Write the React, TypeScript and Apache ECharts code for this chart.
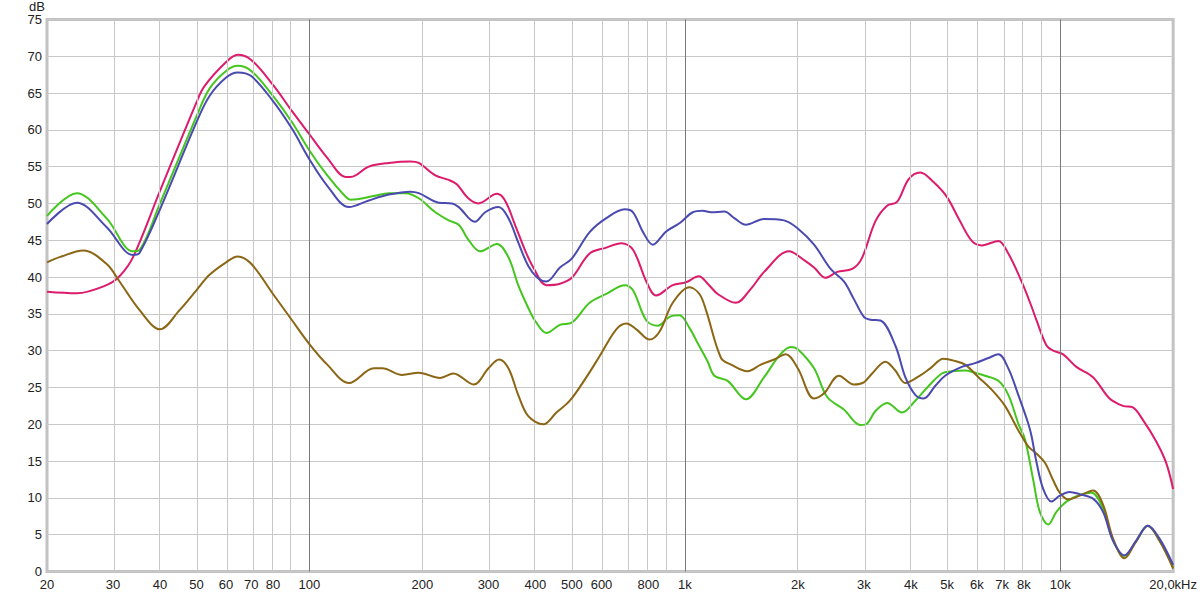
import React, { useEffect, useRef } from "react";
import * as echarts from "echarts";

// Frequency (Hz) / level (dB) readings for each curve
const magentaPoints: [number, number][] = [
  [20, 38.0], [24, 37.8], [28.8, 38.9], [31.2, 40.1], [33.9, 42.7], [40, 51.7], [50, 63.7], [52.5, 65.9],
  [60, 69.2], [64.4, 70.2], [70, 69.5], [80, 66.1], [90, 62.5], [100, 59.4], [111.6, 56.2], [124.9, 53.6],
  [128.8, 53.6], [144, 55.0], [162.8, 55.5], [185.8, 55.7], [195.6, 55.5], [216.6, 53.8], [235, 53.2],
  [247, 52.6], [265, 50.7], [282, 50.0], [316, 51.3], [332, 50.4], [353, 47.1], [375, 43.7], [395, 41.3],
  [428, 38.9], [465, 39.1], [500, 39.9], [558, 43.2], [618, 44.0], [678, 44.6], [728, 43.7], [790, 39.4],
  [839, 37.5], [929, 38.9], [1008, 39.3], [1090, 40.1], [1151, 39.1], [1224, 37.7], [1368, 36.5],
  [1500, 38.4], [1627, 40.7], [1896, 43.5], [2079, 42.3], [2210, 41.3], [2372, 39.9], [2549, 40.7],
  [2793, 41.1], [2960, 42.5], [3221, 47.6], [3459, 49.7], [3676, 50.2], [3950, 53.3], [4240, 54.2],
  [4599, 52.9], [4990, 50.9], [5360, 48.0], [5815, 44.9], [6180, 44.3], [6844, 44.9], [7276, 43.2],
  [7892, 39.4], [8389, 36.0], [8653, 34.1], [9197, 30.7], [9580, 30.0], [10184, 29.5], [11046, 27.8],
  [12232, 26.4], [13542, 23.5], [14696, 22.5], [15622, 22.3], [16608, 20.6], [18012, 17.7], [19152, 14.8],
  [20000, 11.2],
];

const bluePoints: [number, number][] = [
  [20, 47.2], [24, 50.1], [28.8, 46.8], [33.9, 43.0], [35.3, 43.3], [40, 49.2], [50, 61.0], [54.2, 64.6],
  [60, 67.1], [64.4, 67.8], [70, 67.3], [80, 63.9], [90, 60.1], [100, 56.0], [111.6, 52.4], [127.5, 49.5],
  [144, 50.4], [162.8, 51.2], [185.8, 51.6], [195.6, 51.4], [221, 50.1], [240, 50.0], [250, 49.5],
  [276, 47.5], [294, 48.8], [319, 49.5], [339, 48.0], [360, 44.7], [383, 41.5], [405, 39.9], [428, 39.4],
  [465, 41.3], [500, 42.5], [558, 46.1], [618, 48.0], [692, 49.2], [728, 48.8], [774, 46.1], [822, 44.4],
  [892, 46.2], [968, 47.3], [1050, 48.8], [1116, 49.0], [1175, 48.8], [1275, 48.9], [1355, 48.0],
  [1454, 47.1], [1627, 47.9], [1839, 47.7], [2000, 46.6], [2210, 44.4], [2446, 41.1], [2654, 39.4],
  [2822, 37.0], [3000, 34.6], [3123, 34.2], [3320, 34.1], [3638, 30.7], [3868, 26.4], [4112, 24.0],
  [4329, 23.5], [4645, 25.2], [4938, 26.6], [5470, 27.8], [5935, 28.3], [6439, 29.0], [6844, 29.5],
  [7276, 27.6], [7734, 24.0], [8222, 20.1], [8389, 18.4], [8653, 14.8], [9015, 11.2], [9482, 9.5],
  [9974, 10.3], [10602, 10.8], [11272, 10.5], [12232, 9.9], [13008, 8.1], [13828, 4.2], [14840, 2.2],
  [15940, 4.2], [17124, 6.2], [18380, 4.5], [20000, 0.9],
];

const greenPoints: [number, number][] = [
  [20, 48.3], [24, 51.4], [28.8, 48.0], [33.9, 43.5], [35.3, 43.7], [40, 50.0], [50, 61.8], [54.2, 65.6],
  [60, 68.0], [64.4, 68.7], [70, 68.0], [80, 64.6], [90, 61.0], [100, 57.2], [111.6, 53.8], [124.9, 50.9],
  [128.8, 50.5], [148.5, 51.0], [162.8, 51.4], [180.3, 51.4], [195.6, 50.7], [216.6, 48.8], [235, 47.7],
  [250, 47.1], [265, 45.1], [285, 43.5], [316, 44.5], [339, 42.7], [360, 38.9], [383, 35.8], [400, 34.0],
  [428, 32.4], [465, 33.5], [500, 33.8], [558, 36.5], [618, 37.7], [692, 38.9], [728, 38.2], [790, 34.1],
  [848, 33.4], [911, 34.6], [968, 34.8], [1029, 33.1], [1083, 31.0], [1151, 28.5], [1199, 26.6],
  [1301, 25.9], [1454, 23.4], [1627, 26.4], [1784, 29.3], [1915, 30.5], [2000, 30.2], [2210, 27.6],
  [2396, 23.7], [2654, 22.0], [2938, 19.9], [3061, 20.1], [3221, 21.8], [3459, 22.9], [3790, 21.6],
  [4112, 23.2], [4464, 25.2], [4840, 26.9], [5146, 27.2], [5582, 27.3], [5935, 27.0], [6306, 26.6],
  [6844, 25.9], [7276, 24.0], [7734, 20.1], [8054, 18.0], [8481, 12.4], [8828, 8.1], [9292, 6.4],
  [9774, 8.1], [10392, 9.5], [11272, 10.4], [12106, 10.7], [13008, 8.6], [13828, 4.2], [14840, 2.1],
  [15940, 4.1], [17124, 6.2], [18380, 4.2], [20000, 0.6],
];

const brownPoints: [number, number][] = [
  [20, 42.0], [21.6, 42.7], [25, 43.6], [28.8, 41.8], [31.2, 39.4], [35.3, 35.5], [40, 32.9], [45.1, 35.5],
  [50, 38.2], [54.2, 40.3], [60, 42.0], [64.4, 42.8], [70, 41.8], [80, 37.7], [90, 34.1], [100, 30.9],
  [111.6, 28.1], [127.5, 25.6], [148.5, 27.6], [156.3, 27.6], [176.6, 26.7], [195.6, 27.0], [223, 26.3],
  [242, 26.9], [274, 25.4], [300, 27.6], [320, 28.8], [339, 27.6], [360, 24.0], [383, 21.1], [420, 20.0],
  [455, 21.6], [494, 23.2], [547, 26.4], [594, 29.3], [657, 32.9], [699, 33.7], [743, 32.9], [806, 31.5],
  [857, 32.6], [929, 36.5], [1029, 38.6], [1094, 37.7], [1139, 35.5], [1249, 29.0], [1328, 28.1],
  [1469, 27.2], [1594, 28.1], [1730, 28.8], [1858, 29.5], [2000, 27.6], [2210, 23.5], [2350, 24.2],
  [2575, 26.6], [2822, 25.4], [3000, 25.7], [3156, 26.9], [3423, 28.5], [3638, 27.3], [3868, 25.6],
  [4200, 26.5], [4508, 27.6], [4890, 28.9], [5250, 28.6], [5582, 28.1], [6058, 26.4], [6570, 24.7],
  [7128, 22.5], [7734, 19.2], [8222, 17.0], [8653, 16.0], [9102, 14.8], [9580, 12.4], [9974, 10.7],
  [10500, 9.8], [11272, 10.3], [12232, 11.0], [13008, 9.1], [13828, 4.5], [14840, 1.8], [15940, 4.1],
  [17124, 6.2], [18380, 4.2], [20000, 0.4],
];

const labelFreqs = [20, 30, 40, 50, 60, 70, 80, 100, 200, 300, 400, 500, 600, 800, 1000, 2000, 3000, 4000, 5000, 6000, 7000, 8000, 10000, 20000];
const minorGridFreqs = [30, 40, 50, 60, 70, 80, 90, 200, 300, 400, 500, 600, 700, 800, 900, 2000, 3000, 4000, 5000, 6000, 7000, 8000, 9000];
const decadeGridFreqs = [100, 1000, 10000];

const colors = { magenta: "#dc1b6c", blue: "#4a4ab0", green: "#44c61e", brown: "#8b6614" };

function fmtFreq(f: number): string {
  if (f >= 20000) return "20,0kHz";
  if (f >= 1000) return `${Math.round(f / 1000)}k`;
  return `${Math.round(f)}`;
}

const lg = (f: number) => Math.log10(f);

export default function App() {
  const ref = useRef<HTMLDivElement>(null);
  useEffect(() => {
    if (!ref.current) return;
    const chart = echarts.init(ref.current, null, { renderer: "svg" });
    const mkSeries = (name: string, pts: [number, number][], color: string, z: number) => ({
      name,
      type: "line",
      data: pts.map(([f, d]) => [lg(f), d]),
      showSymbol: false,
      smooth: 0.35,
      z,
      lineStyle: { color, width: 2 },
      itemStyle: { color },
    });
    chart.setOption({
      animation: false,
      backgroundColor: "#ffffff",
      textStyle: { fontFamily: "'Liberation Sans', Arial, sans-serif" },
      grid: {
        left: 47, top: 15, right: 23, bottom: 21.5,
        show: true, borderColor: "#c2c2c2", borderWidth: 3, backgroundColor: "#ffffff",
      },
      xAxis: {
        type: "value",
        min: lg(20),
        max: lg(20000),
        axisLine: { show: false },
        axisTick: { show: false },
        splitLine: { show: false },
        axisLabel: {
          customValues: labelFreqs.map(lg),
          formatter: (v: number) => fmtFreq(Math.pow(10, v)),
          fontSize: 13,
          color: "#222",
          margin: 6,
          fontFamily: "'Liberation Sans', Arial, sans-serif",
        },
      },
      yAxis: {
        type: "value",
        min: 0,
        max: 75,
        interval: 5,
        name: "dB",
        nameLocation: "end",
        nameGap: 2,
        nameTextStyle: { align: "right", color: "#222", fontSize: 13, padding: [0, 2, 0, 0], fontFamily: "'Liberation Sans', Arial, sans-serif" },
        axisLine: { show: false },
        axisTick: { show: false },
        splitLine: { show: true, lineStyle: { color: "#c8c8c8", width: 1 } },
        axisLabel: { fontSize: 13, color: "#222", margin: 5, fontFamily: "'Liberation Sans', Arial, sans-serif" },
      },
      series: [
        {
          name: "grid",
          type: "line",
          data: [],
          z: 1,
          silent: true,
          markLine: {
            silent: true,
            symbol: "none",
            label: { show: false },
            animation: false,
            data: [
              ...minorGridFreqs.map((f) => ({ xAxis: lg(f), lineStyle: { color: "#c8c8c8", width: 1, type: "solid" } })),
              ...decadeGridFreqs.map((f) => ({ xAxis: lg(f), lineStyle: { color: "#7a7a7a", width: 1, type: "solid" } })),
            ],
          },
        },
        mkSeries("magenta", magentaPoints, colors.magenta, 3),
        mkSeries("green", greenPoints, colors.green, 4),
        mkSeries("brown", brownPoints, colors.brown, 5),
        mkSeries("blue", bluePoints, colors.blue, 6),
      ],
    });
    return () => chart.dispose();
  }, []);
  return <div ref={ref} style={{ position: "absolute", left: 0, top: 0, width: 1200, height: 593 }} />;
}
